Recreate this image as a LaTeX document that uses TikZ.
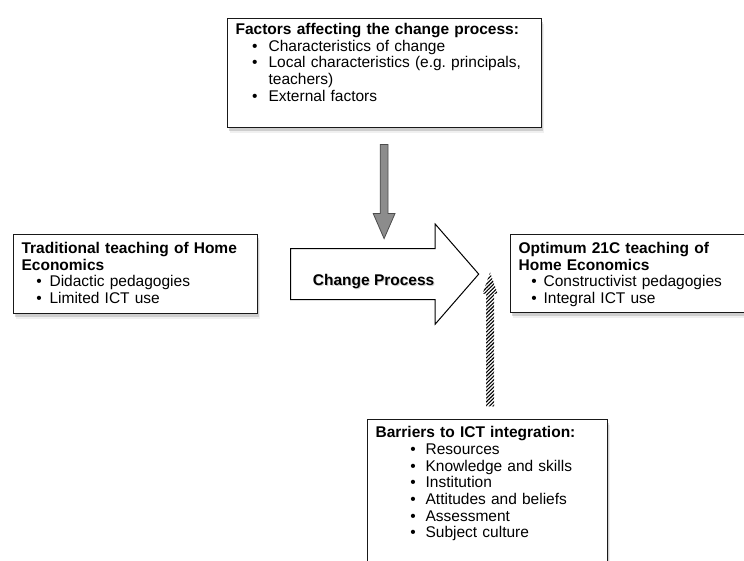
\documentclass[tikz,border=0pt]{standalone}
\usepackage{fontspec}
\setmainfont{Liberation Sans}
\usetikzlibrary{shapes.arrows,shadows,patterns.meta,positioning}
\frenchspacing

% bullet line: indent, gap, text
\newcommand{\bitem}[3]{\hspace*{#1}\makebox[#2][l]{•}#3}

\begin{document}
\begin{tikzpicture}[x=1pt,y=1pt,
  info box/.style={draw=black!90, line width=1.2pt, fill=white, anchor=north west,
    align=left, inner ysep=0pt, inner xsep=8pt,
    font=\fontsize{15.5}{16.7}\selectfont,
    drop shadow={shadow xshift=2.5pt, shadow yshift=-5pt, opacity=0.12},
    drop shadow={shadow xshift=1.5pt, shadow yshift=-3pt, opacity=0.3}},
  change arrow/.style={single arrow, draw=black, line width=1pt, fill=white,
    minimum height=188pt, inner ysep=25pt, inner xsep=0pt,
    single arrow head extend=24.5pt, single arrow tip angle=98},
  push arrow/.style={single arrow, draw=black!70, line width=0.8pt, fill=black!45,
    minimum height=94pt, inner ysep=3.5pt, inner xsep=0pt,
    single arrow head extend=7pt, single arrow tip angle=47},
  hinder arrow/.style={single arrow,
    pattern={Lines[angle=45,distance=2.6pt,line width=1.1pt]},
    minimum height=134pt, inner ysep=3.5pt, inner xsep=0pt,
    single arrow head extend=3.5pt, single arrow tip angle=39}]

  \useasboundingbox (0,0) rectangle (744,-561);

  % the four boxes
  \node[info box, text width=298pt, text height=16pt, text depth=93pt] (factors) at (227,-18)
    {\textbf{Factors affecting the change process:}\\
     \bitem{16.5pt}{16.5pt}{Characteristics of change}\\
     \bitem{16.5pt}{16.5pt}{Local characteristics (e.g. principals,}\\
     \hspace*{33pt}teachers)\\
     \bitem{16.5pt}{16.5pt}{External factors}};
  \node[info box, text width=228pt, text height=19pt, text depth=60pt] (traditional) at (13,-234)
    {\textbf{Traditional teaching of Home}\\
     \textbf{Economics}\\
     \bitem{14.7pt}{13.3pt}{Didactic pedagogies}\\
     \bitem{14.7pt}{13.3pt}{Limited ICT use}};
  \node[info box, text width=234pt, text height=19pt, text depth=59pt] (optimum) at (510,-234)
    {\textbf{Optimum 21C teaching of}\\
     \textbf{Home Economics}\\
     \bitem{12.7pt}{12.3pt}{Constructivist pedagogies}\\
     \bitem{12.7pt}{12.3pt}{Integral ICT use}};
  \node[info box, text width=224pt, text height=18pt, text depth=170pt] (barriers) at (367,-419)
    {\textbf{Barriers to ICT integration:}\\
     \bitem{34.7pt}{15.3pt}{Resources}\\
     \bitem{34.7pt}{15.3pt}{Knowledge and skills}\\
     \bitem{34.7pt}{15.3pt}{Institution}\\
     \bitem{34.7pt}{15.3pt}{Attitudes and beliefs}\\
     \bitem{34.7pt}{15.3pt}{Assessment}\\
     \bitem{34.7pt}{15.3pt}{Subject culture}};

  % arrows
  \node[change arrow, anchor=tail,
    label={[font=\bfseries\fontsize{15.5}{16.7}\selectfont, yshift=-8pt]center:%
      \makebox[0pt][l]{\hspace{1pt}\raisebox{-1pt}{\color{black!18}Change Process}}Change Process}]
    (change) at ([xshift=32pt]traditional.east) {};
  \node[push arrow, rotate=-90, anchor=tail] (push) at ([xshift=-0.5pt,yshift=-16pt]factors.south) {};
  \node[hinder arrow, rotate=90, anchor=tail] (hinder) at ([xshift=2.5pt,yshift=12pt]barriers.north) {};
\end{tikzpicture}
\end{document}
